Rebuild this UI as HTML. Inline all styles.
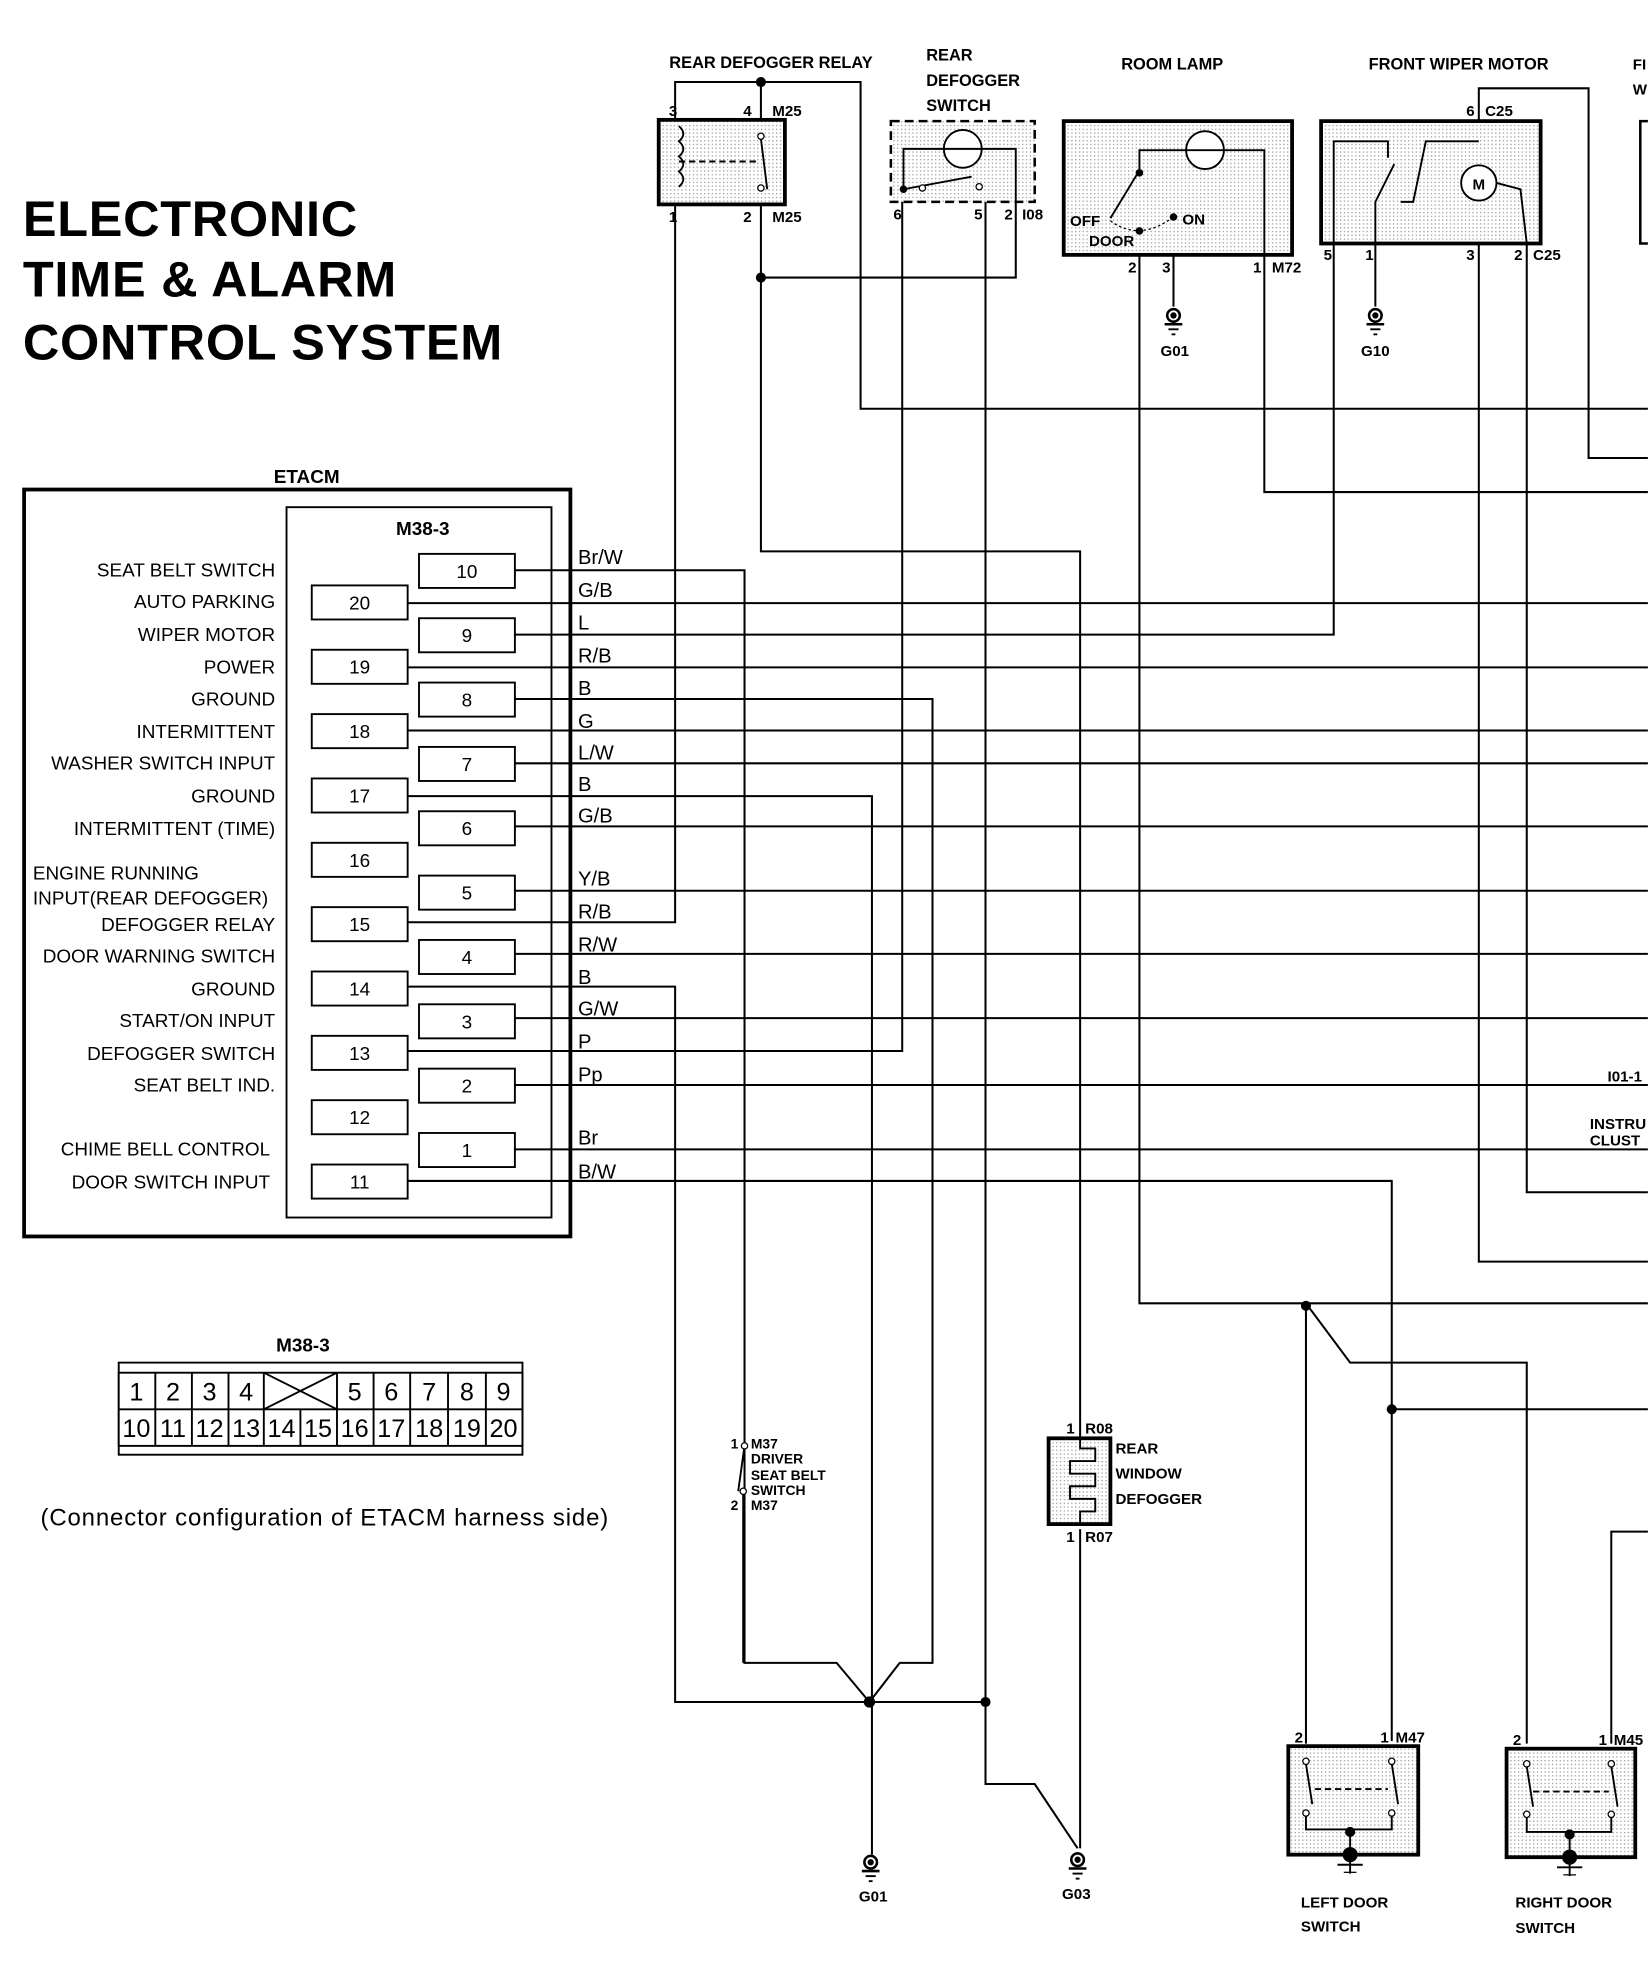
<!DOCTYPE html>
<html><head><meta charset="utf-8"><style>
html,body{margin:0;padding:0;background:#fff}
svg{display:block}
text{font-family:"Liberation Sans",Arial,sans-serif;fill:#000}
.b{font-weight:bold}
</style></head><body>
<svg width="1648" height="1972" viewBox="0 0 1306 1563" xmlns="http://www.w3.org/2000/svg">
<defs>
<pattern id="dots" width="3" height="3" patternUnits="userSpaceOnUse"><rect width="3" height="3" fill="#fff"/><rect width="1" height="1" fill="#999"/></pattern>
<g id="gnd"><circle cx="0" cy="0" r="5" fill="none" stroke="#000" stroke-width="2"/><circle cx="0" cy="0" r="2.5" fill="#000"/><line x1="-7" y1="7" x2="7" y2="7" stroke="#000" stroke-width="2"/><line x1="-4" y1="11" x2="4" y2="11" stroke="#000" stroke-width="1.5"/><line x1="-1.5" y1="15" x2="1.5" y2="15" stroke="#000" stroke-width="1.5"/></g>
</defs>

<text x="18" y="187" class="b" font-size="40" textLength="265">ELECTRONIC</text>
<text x="18" y="235" class="b" font-size="40" textLength="296">TIME &amp; ALARM</text>
<text x="18" y="285" class="b" font-size="40" textLength="380">CONTROL SYSTEM</text>

<text x="243" y="383" class="b" font-size="15" text-anchor="middle">ETACM</text>
<rect x="19" y="388" width="433" height="592" fill="none" stroke="#000" stroke-width="3"/>
<rect x="227" y="402" width="210" height="563" fill="none" stroke="#000" stroke-width="1.5"/>
<text x="335" y="424" class="b" font-size="15" text-anchor="middle">M38-3</text>

<g font-size="15" text-anchor="end">
<text x="218" y="457">SEAT BELT SWITCH</text>
<text x="218" y="482">AUTO PARKING</text>
<text x="218" y="508">WIPER MOTOR</text>
<text x="218" y="534">POWER</text>
<text x="218" y="559">GROUND</text>
<text x="218" y="585">INTERMITTENT</text>
<text x="218" y="610">WASHER SWITCH INPUT</text>
<text x="218" y="636">GROUND</text>
<text x="218" y="662">INTERMITTENT (TIME)</text>
<text x="218" y="738">DEFOGGER RELAY</text>
<text x="218" y="763">DOOR WARNING SWITCH</text>
<text x="218" y="789">GROUND</text>
<text x="218" y="814">START/ON INPUT</text>
<text x="218" y="840">DEFOGGER SWITCH</text>
<text x="218" y="865">SEAT BELT IND.</text>
<text x="214" y="916">CHIME BELL CONTROL</text>
<text x="214" y="942">DOOR SWITCH INPUT</text>
</g>
<text x="26" y="697" font-size="15">ENGINE RUNNING</text>
<text x="26" y="717" font-size="15">INPUT(REAR DEFOGGER)</text>

<g fill="#fff" stroke="#000" stroke-width="1.5">
<rect x="332" y="439" width="76" height="27"/><rect x="332" y="490" width="76" height="27"/><rect x="332" y="541" width="76" height="27"/><rect x="332" y="592" width="76" height="27"/><rect x="332" y="643" width="76" height="27"/><rect x="332" y="694" width="76" height="27"/><rect x="332" y="745" width="76" height="27"/><rect x="332" y="796" width="76" height="27"/><rect x="332" y="847" width="76" height="27"/><rect x="332" y="898" width="76" height="27"/>
<rect x="247" y="464" width="76" height="27"/><rect x="247" y="515" width="76" height="27"/><rect x="247" y="566" width="76" height="27"/><rect x="247" y="617" width="76" height="27"/><rect x="247" y="668" width="76" height="27"/><rect x="247" y="719" width="76" height="27"/><rect x="247" y="770" width="76" height="27"/><rect x="247" y="821" width="76" height="27"/><rect x="247" y="872" width="76" height="27"/><rect x="247" y="923" width="76" height="27"/>
</g>
<g font-size="15" text-anchor="middle">
<text x="370" y="458">10</text><text x="370" y="509">9</text><text x="370" y="560">8</text><text x="370" y="611">7</text><text x="370" y="662">6</text><text x="370" y="713">5</text><text x="370" y="764">4</text><text x="370" y="815">3</text><text x="370" y="866">2</text><text x="370" y="917">1</text>
<text x="285" y="483">20</text><text x="285" y="534">19</text><text x="285" y="585">18</text><text x="285" y="636">17</text><text x="285" y="687">16</text><text x="285" y="738">15</text><text x="285" y="789">14</text><text x="285" y="840">13</text><text x="285" y="891">12</text><text x="285" y="942">11</text>
</g>
<g font-size="16">
<text x="458" y="447">Br/W</text><text x="458" y="473">G/B</text><text x="458" y="499">L</text><text x="458" y="525">R/B</text><text x="458" y="551">B</text><text x="458" y="577">G</text><text x="458" y="602">L/W</text><text x="458" y="627">B</text><text x="458" y="652">G/B</text><text x="458" y="702">Y/B</text><text x="458" y="728">R/B</text><text x="458" y="754">R/W</text><text x="458" y="780">B</text><text x="458" y="805">G/W</text><text x="458" y="831">P</text><text x="458" y="857">Pp</text><text x="458" y="907">Br</text><text x="458" y="934">B/W</text>
</g>

<g fill="none" stroke="#000" stroke-width="1.6">
<polyline points="408,452 590,452 590,1318 663,1318 689,1349"/>
<line x1="323" y1="478" x2="1306" y2="478"/>
<polyline points="408,503 1057,503 1057,193"/>
<line x1="323" y1="529" x2="1306" y2="529"/>
<polyline points="408,554 739,554 739,1318 713,1318 689,1349"/>
<line x1="323" y1="579" x2="1306" y2="579"/>
<line x1="408" y1="605" x2="1306" y2="605"/>
<polyline points="323,631 691,631 691,1470"/>
<line x1="408" y1="655" x2="1306" y2="655"/>
<line x1="408" y1="706" x2="1306" y2="706"/>
<polyline points="323,731 535,731 535,162"/>
<line x1="408" y1="756" x2="1306" y2="756"/>
<polyline points="323,782 535,782 535,1349 781,1349"/>
<line x1="408" y1="807" x2="1306" y2="807"/>
<polyline points="323,833 715,833 715,160"/>
<line x1="408" y1="860" x2="1306" y2="860"/>
<line x1="408" y1="911" x2="1306" y2="911"/>
<polyline points="323,936 1103,936 1103,1380"/>

<polyline points="535,95 535,65 682,65 682,324 1306,324"/>
<line x1="603" y1="65" x2="603" y2="95"/>
<polyline points="603,162 603,437 856,437 856,1140"/>
<polyline points="603,220 805,220 805,160"/>
<polyline points="781,160 781,1414 820,1414 854,1465"/>
<polyline points="903,202 903,1033 1306,1033"/>
<polyline points="1035,1033 1035,1382"/>
<polyline points="1035,1033 1070,1080 1210,1080 1210,1382"/>
<line x1="1103" y1="1117" x2="1306" y2="1117"/>
<polyline points="1002,202 1002,390 1306,390"/>
<line x1="930" y1="202" x2="930" y2="243"/>
<line x1="1090" y1="193" x2="1090" y2="243"/>
<polyline points="1172,193 1172,1000 1306,1000"/>
<polyline points="1210,193 1210,945 1306,945"/>
<polyline points="1172,96 1172,70 1259,70 1259,363 1306,363"/>
<polyline points="1277,1382 1277,1214 1306,1214"/>
<line x1="856" y1="1212" x2="856" y2="1465"/>
<line x1="589" y1="1182" x2="589" y2="1318"/>
</g>
<g fill="#000">
<circle cx="603" cy="65" r="4"/><circle cx="603" cy="220" r="4"/><circle cx="689" cy="1349" r="4.5"/><circle cx="781" cy="1349" r="4"/><circle cx="1035" cy="1035" r="4"/><circle cx="1103" cy="1117" r="4"/><circle cx="1172" cy="111" r="4"/>
</g>

<text x="611" y="54" class="b" font-size="13" text-anchor="middle">REAR DEFOGGER RELAY</text>
<rect x="522" y="95" width="100" height="67" fill="url(#dots)" stroke="#000" stroke-width="3"/>
<path d="M538,100 q7,6 0,12 q7,6 0,12 q7,6 0,12 q7,6 0,12" fill="none" stroke="#000" stroke-width="1.5"/>
<line x1="538" y1="128" x2="600" y2="128" stroke="#000" stroke-width="1.5" stroke-dasharray="5,3"/>
<line x1="603" y1="110" x2="608" y2="150" stroke="#000" stroke-width="1.5"/>
<circle cx="603" cy="108" r="2.5" fill="#fff" stroke="#000"/><circle cx="603" cy="149" r="2.5" fill="#fff" stroke="#000"/>
<g font-size="12" class="b"><text x="530" y="92">3</text><text x="589" y="92">4</text><text x="612" y="92">M25</text><text x="530" y="176">1</text><text x="589" y="176">2</text><text x="612" y="176">M25</text></g>

<g class="b" font-size="13"><text x="734" y="48">REAR</text><text x="734" y="68">DEFOGGER</text><text x="734" y="88">SWITCH</text></g>
<rect x="706" y="96" width="114" height="64" fill="url(#dots)" stroke="#000" stroke-width="2" stroke-dasharray="7,4"/>
<circle cx="763" cy="118" r="15" fill="#fff" stroke="#000" stroke-width="1.5"/>
<polyline points="716,150 716,118 805,118 805,160" fill="none" stroke="#000" stroke-width="1.5"/>
<line x1="716" y1="150" x2="770" y2="140" stroke="#000" stroke-width="1.5"/>
<circle cx="716" cy="150" r="3" fill="#000"/><circle cx="731" cy="149" r="2.5" fill="#fff" stroke="#000"/><circle cx="776" cy="148" r="2.5" fill="#fff" stroke="#000"/>
<g font-size="12" class="b"><text x="708" y="174">6</text><text x="772" y="174">5</text><text x="796" y="174">2</text><text x="810" y="174">I08</text></g>

<text x="929" y="55" class="b" font-size="13" text-anchor="middle">ROOM LAMP</text>
<rect x="843" y="96" width="181" height="106" fill="url(#dots)" stroke="#000" stroke-width="3"/>
<circle cx="955" cy="119" r="15" fill="#fff" stroke="#000" stroke-width="1.5"/>
<polyline points="903,135 903,119 1002,119 1002,202" fill="none" stroke="#000" stroke-width="1.5"/>
<line x1="903" y1="135" x2="880" y2="173" stroke="#000" stroke-width="1.5"/>
<circle cx="903" cy="137" r="3" fill="#000"/><circle cx="903" cy="183" r="3" fill="#000"/><circle cx="930" cy="172" r="3" fill="#000"/>
<path d="M880,175 Q903,192 930,172" fill="none" stroke="#000" stroke-dasharray="2,2"/>
<g class="b" font-size="12"><text x="848" y="179">OFF</text><text x="937" y="178">ON</text><text x="863" y="195">DOOR</text><text x="894" y="216">2</text><text x="921" y="216">3</text><text x="993" y="216">1</text><text x="1008" y="216">M72</text></g>
<use href="#gnd" x="930" y="250"/><text x="931" y="282" class="b" font-size="12" text-anchor="middle">G01</text>

<text x="1156" y="55" class="b" font-size="13" text-anchor="middle">FRONT WIPER MOTOR</text>
<rect x="1047" y="96" width="174" height="97" fill="url(#dots)" stroke="#000" stroke-width="3"/>
<polyline points="1057,193 1057,112 1100,112 1100,125" fill="none" stroke="#000" stroke-width="1.5"/>
<line x1="1090" y1="160" x2="1105" y2="130" stroke="#000" stroke-width="1.5"/>
<polyline points="1090,193 1090,160" fill="none" stroke="#000" stroke-width="1.5"/>
<polyline points="1110,160 1120,160 1130,112 1172,112" fill="none" stroke="#000" stroke-width="1.5"/>
<circle cx="1172" cy="145" r="14" fill="#fff" stroke="#000" stroke-width="1.5"/><text x="1172" y="150" font-size="12" text-anchor="middle" class="b">M</text>
<polyline points="1186,145 1205,150 1210,193" fill="none" stroke="#000" stroke-width="1.5"/>
<g class="b" font-size="12"><text x="1162" y="92">6</text><text x="1177" y="92">C25</text><text x="1049" y="206">5</text><text x="1082" y="206">1</text><text x="1162" y="206">3</text><text x="1200" y="206">2</text><text x="1215" y="206">C25</text></g>
<use href="#gnd" x="1090" y="250"/><text x="1090" y="282" class="b" font-size="12" text-anchor="middle">G10</text>

<g class="b" font-size="12"><text x="1294" y="55">FI</text><text x="1294" y="75">W</text><text x="1274" y="857">I01-1</text><text x="1260" y="895">INSTRU</text><text x="1260" y="908">CLUST</text></g>
<polyline points="1306,96 1300,96 1300,193 1306,193" fill="none" stroke="#000" stroke-width="2"/>

<text x="240" y="1071" class="b" font-size="15" text-anchor="middle">M38-3</text>
<rect x="94" y="1080" width="320" height="73" fill="none" stroke="#000" stroke-width="1.5"/>
<rect x="94" y="1088" width="320" height="58" fill="#fff" stroke="#000" stroke-width="1.5"/>
<line x1="94" y1="1117" x2="414" y2="1117" stroke="#000" stroke-width="1.5"/>
<g stroke="#000" stroke-width="1.5">
<line x1="123" y1="1088" x2="123" y2="1117"/><line x1="152" y1="1088" x2="152" y2="1117"/><line x1="181" y1="1088" x2="181" y2="1117"/><line x1="209" y1="1088" x2="209" y2="1117"/><line x1="267" y1="1088" x2="267" y2="1117"/><line x1="296" y1="1088" x2="296" y2="1117"/><line x1="325" y1="1088" x2="325" y2="1117"/><line x1="355" y1="1088" x2="355" y2="1117"/><line x1="385" y1="1088" x2="385" y2="1117"/>
<line x1="209" y1="1088" x2="267" y2="1117"/><line x1="209" y1="1117" x2="267" y2="1088"/>
<line x1="123" y1="1117" x2="123" y2="1146"/><line x1="152" y1="1117" x2="152" y2="1146"/><line x1="181" y1="1117" x2="181" y2="1146"/><line x1="209" y1="1117" x2="209" y2="1146"/><line x1="238" y1="1117" x2="238" y2="1146"/><line x1="267" y1="1117" x2="267" y2="1146"/><line x1="296" y1="1117" x2="296" y2="1146"/><line x1="325" y1="1117" x2="325" y2="1146"/><line x1="355" y1="1117" x2="355" y2="1146"/><line x1="385" y1="1117" x2="385" y2="1146"/>
</g>
<g font-size="20" text-anchor="middle">
<text x="108" y="1110">1</text><text x="137" y="1110">2</text><text x="166" y="1110">3</text><text x="195" y="1110">4</text><text x="281" y="1110">5</text><text x="310" y="1110">6</text><text x="340" y="1110">7</text><text x="370" y="1110">8</text><text x="399" y="1110">9</text>
<text x="108" y="1139">10</text><text x="137" y="1139">11</text><text x="166" y="1139">12</text><text x="195" y="1139">13</text><text x="223" y="1139">14</text><text x="252" y="1139">15</text><text x="281" y="1139">16</text><text x="310" y="1139">17</text><text x="340" y="1139">18</text><text x="370" y="1139">19</text><text x="399" y="1139">20</text>
</g>
<text x="32" y="1209" font-size="19" textLength="450">(Connector configuration of ETACM harness side)</text>

<line x1="590" y1="1146" x2="585" y2="1182" stroke="#000" stroke-width="1.5"/>
<circle cx="590" cy="1146" r="2.5" fill="#fff" stroke="#000"/><circle cx="589" cy="1182" r="2.5" fill="#fff" stroke="#000"/>
<g class="b" font-size="11"><text x="579" y="1148">1</text><text x="595" y="1148">M37</text><text x="595" y="1160">DRIVER</text><text x="595" y="1173">SEAT BELT</text><text x="595" y="1185">SWITCH</text><text x="579" y="1197">2</text><text x="595" y="1197">M37</text></g>

<rect x="831" y="1140" width="49" height="68" fill="url(#dots)" stroke="#000" stroke-width="3"/>
<path d="M856,1140 v8 h12 v10 h-20 v10 h20 v10 h-20 v10 h20 v10 h-12 v10" fill="none" stroke="#000" stroke-width="1.5"/>
<g class="b" font-size="12"><text x="845" y="1136">1</text><text x="860" y="1136">R08</text><text x="884" y="1152">REAR</text><text x="884" y="1172">WINDOW</text><text x="884" y="1192">DEFOGGER</text><text x="845" y="1222">1</text><text x="860" y="1222">R07</text></g>

<use href="#gnd" x="690" y="1476"/><text x="692" y="1507" class="b" font-size="12" text-anchor="middle">G01</text>
<use href="#gnd" x="854" y="1474"/><text x="853" y="1505" class="b" font-size="12" text-anchor="middle">G03</text>

<g>
<rect x="1021" y="1384" width="103" height="86" fill="url(#dots)" stroke="#000" stroke-width="3"/>
<g fill="none" stroke="#000" stroke-width="1.5">
<line x1="1035" y1="1398" x2="1040" y2="1430"/><line x1="1103" y1="1398" x2="1108" y2="1430"/>
<line x1="1042" y1="1418" x2="1100" y2="1418" stroke-dasharray="5,3"/>
<polyline points="1035,1437 1035,1450 1103,1450 1103,1437"/>
<line x1="1070" y1="1450" x2="1070" y2="1485"/>
</g>
<circle cx="1035" cy="1396" r="2.5" fill="#fff" stroke="#000"/><circle cx="1103" cy="1396" r="2.5" fill="#fff" stroke="#000"/><circle cx="1035" cy="1437" r="2.5" fill="#fff" stroke="#000"/><circle cx="1103" cy="1437" r="2.5" fill="#fff" stroke="#000"/>
<circle cx="1070" cy="1452" r="4" fill="#000"/><circle cx="1070" cy="1470" r="6" fill="#000"/>
<line x1="1060" y1="1478" x2="1080" y2="1478" stroke="#000" stroke-width="1.5"/><line x1="1065" y1="1484" x2="1075" y2="1484" stroke="#000"/>
<g class="b" font-size="12"><text x="1026" y="1381">2</text><text x="1094" y="1381">1</text><text x="1106" y="1381">M47</text><text x="1031" y="1512">LEFT DOOR</text><text x="1031" y="1531">SWITCH</text></g>
</g>
<g>
<rect x="1194" y="1386" width="102" height="86" fill="url(#dots)" stroke="#000" stroke-width="3"/>
<g fill="none" stroke="#000" stroke-width="1.5">
<line x1="1210" y1="1400" x2="1215" y2="1432"/><line x1="1277" y1="1400" x2="1282" y2="1432"/>
<line x1="1215" y1="1420" x2="1275" y2="1420" stroke-dasharray="5,3"/>
<polyline points="1210,1438 1210,1452 1277,1452 1277,1438"/>
<line x1="1244" y1="1452" x2="1244" y2="1487"/>
</g>
<circle cx="1210" cy="1398" r="2.5" fill="#fff" stroke="#000"/><circle cx="1277" cy="1398" r="2.5" fill="#fff" stroke="#000"/><circle cx="1210" cy="1438" r="2.5" fill="#fff" stroke="#000"/><circle cx="1277" cy="1438" r="2.5" fill="#fff" stroke="#000"/>
<circle cx="1244" cy="1454" r="4" fill="#000"/><circle cx="1244" cy="1472" r="6" fill="#000"/>
<line x1="1234" y1="1480" x2="1254" y2="1480" stroke="#000" stroke-width="1.5"/><line x1="1239" y1="1486" x2="1249" y2="1486" stroke="#000"/>
<g class="b" font-size="12"><text x="1199" y="1383">2</text><text x="1267" y="1383">1</text><text x="1279" y="1383">M45</text><text x="1201" y="1512">RIGHT DOOR</text><text x="1201" y="1532">SWITCH</text></g>
</g>
</svg>
</body></html>
